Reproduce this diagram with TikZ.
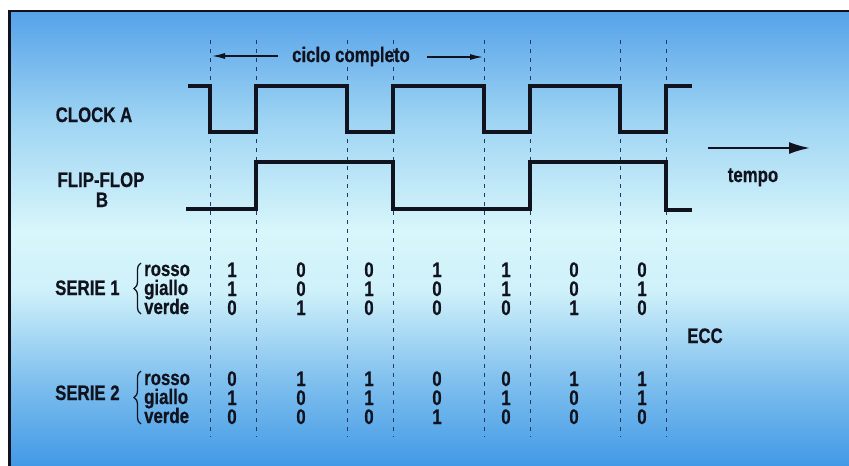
\documentclass[tikz,border=0pt]{standalone}
\usepackage{fontspec}
\usetikzlibrary{arrows.meta,decorations.pathreplacing}
\newfontfamily\labfont[FakeStretch=0.8, FakeBold=0.6]{Liberation Sans Bold}

\definecolor{ink}{HTML}{10131E}
\definecolor{dashc}{HTML}{22386A}
\definecolor{bgA}{HTML}{55A2E9}
\definecolor{bgB}{HTML}{9ED4F3}
\definecolor{bgC}{HTML}{D8F6FB}
\definecolor{bgD}{HTML}{CFF1FA}
\definecolor{bgE}{HTML}{80C0EE}
\definecolor{bgF}{HTML}{4299E6}

\tikzset{
  lab/.style={font=\labfont\fontsize{21}{25}\selectfont, text=ink, inner sep=0pt,
    anchor=base, text height=15pt, text depth=0pt},
  labw/.style={lab, anchor=base west},
  wave/.style={line width=4pt, draw=ink, line join=miter},
  grid/.style={line width=0.9pt, draw=dashc, dash pattern=on 4pt off 5pt},
  thinarrow/.style={line width=1.3pt, draw=ink, -{Latex[length=13pt,width=6pt]}},
  timearrow/.style={line width=2pt, draw=ink, -{Latex[length=21pt,width=12pt]}},
  bracestyle/.style={line width=1.3pt, draw=ink, decorate, decoration={brace, amplitude=7pt}}
}

\begin{document}
\begin{tikzpicture}[x=1pt, y=-1pt]
\useasboundingbox (0,0) rectangle (849,466);

% background panel with vertical colour bands
\shade[top color=bgA, bottom color=bgB] (10,11) rectangle (849,120.5);
\shade[top color=bgB, bottom color=bgC] (10,120) rectangle (849,230.5);
\shade[top color=bgC, bottom color=bgD] (10,230) rectangle (849,290.5);
\shade[top color=bgD, bottom color=bgE] (10,290) rectangle (849,380.5);
\shade[top color=bgE, bottom color=bgF] (10,380) rectangle (849,466);
\draw[line width=2.2pt, draw=ink] (9.5,466) -- (9.5,11) -- (849,11);

% time markers
\foreach \x in {210,256,347,393,484,530,620,666}
  \draw[grid] (\x,40) -- (\x,437);

% waveforms
\draw[wave] (188,86) -- (210,86) -- (210,132) -- (256,132) -- (256,86) -- (347,86)
  -- (347,132) -- (393,132) -- (393,86) -- (484,86) -- (484,132) -- (530,132)
  -- (530,86) -- (620,86) -- (620,132) -- (666,132) -- (666,86) -- (692,86);
\draw[wave] (186,209) -- (256,209) -- (256,162) -- (393,162) -- (393,209)
  -- (530,209) -- (530,162) -- (666,162) -- (666,210) -- (692,210);

% signal names
\node[lab] (clk) at (94,122) {CLOCK A};
\node[lab] (ff) at (101,187) {FLIP-FLOP};
\node[lab] (ffb) at (102,207) {B};

% full cycle marker
\node[lab] (ciclo) at (351,62) {ciclo completo};
\coordinate (cycL0) at (278,56);
\coordinate (cycL1) at (212,56);
\coordinate (cycR0) at (427,57);
\coordinate (cycR1) at (483,57);
\draw[thinarrow] (cycL0) -- (cycL1);
\draw[thinarrow] (cycR0) -- (cycR1);

% time axis
\coordinate (t0) at (708,148);
\coordinate (t1) at (810,148);
\draw[timearrow] (t0) -- (t1);
\node[lab] (tempo) at (753,182) {tempo};

% series labels
\node[labw] (s1) at (55,295) {SERIE 1};
\node[labw] (s2) at (55,400) {SERIE 2};
\draw[bracestyle] (141,314) -- (141,263);
\draw[bracestyle] (141,424) -- (141,371);
\node[labw, text height=11pt] (s1r) at (144,276) {rosso};
\node[labw, text height=11pt] (s1g) at (144,295) {giallo};
\node[labw, text height=11pt] (s1v) at (144,314) {verde};
\node[labw, text height=11pt] (s2r) at (144,385) {rosso};
\node[labw, text height=11pt] (s2g) at (144,404) {giallo};
\node[labw, text height=11pt] (s2v) at (144,423) {verde};

% colour states for each interval
\foreach \x/\a/\b/\c/\d/\e/\f [count=\i] in {
    232/1/1/0/0/1/0, 301/0/0/1/1/0/0, 369/0/1/0/1/1/0, 437/1/0/0/0/0/1,
    506/1/1/0/0/1/0, 574/0/0/1/1/0/0, 642/0/1/0/1/1/0} {
  \node[lab] (sa-r-\i) at (\x,277) {\a};
  \node[lab] (sa-g-\i) at (\x,296) {\b};
  \node[lab] (sa-v-\i) at (\x,315) {\c};
  \node[lab] (sb-r-\i) at (\x,386) {\d};
  \node[lab] (sb-g-\i) at (\x,405) {\e};
  \node[lab] (sb-v-\i) at (\x,424) {\f};
}

\node[lab] (ecc) at (705,343) {ECC};
\end{tikzpicture}
\end{document}
